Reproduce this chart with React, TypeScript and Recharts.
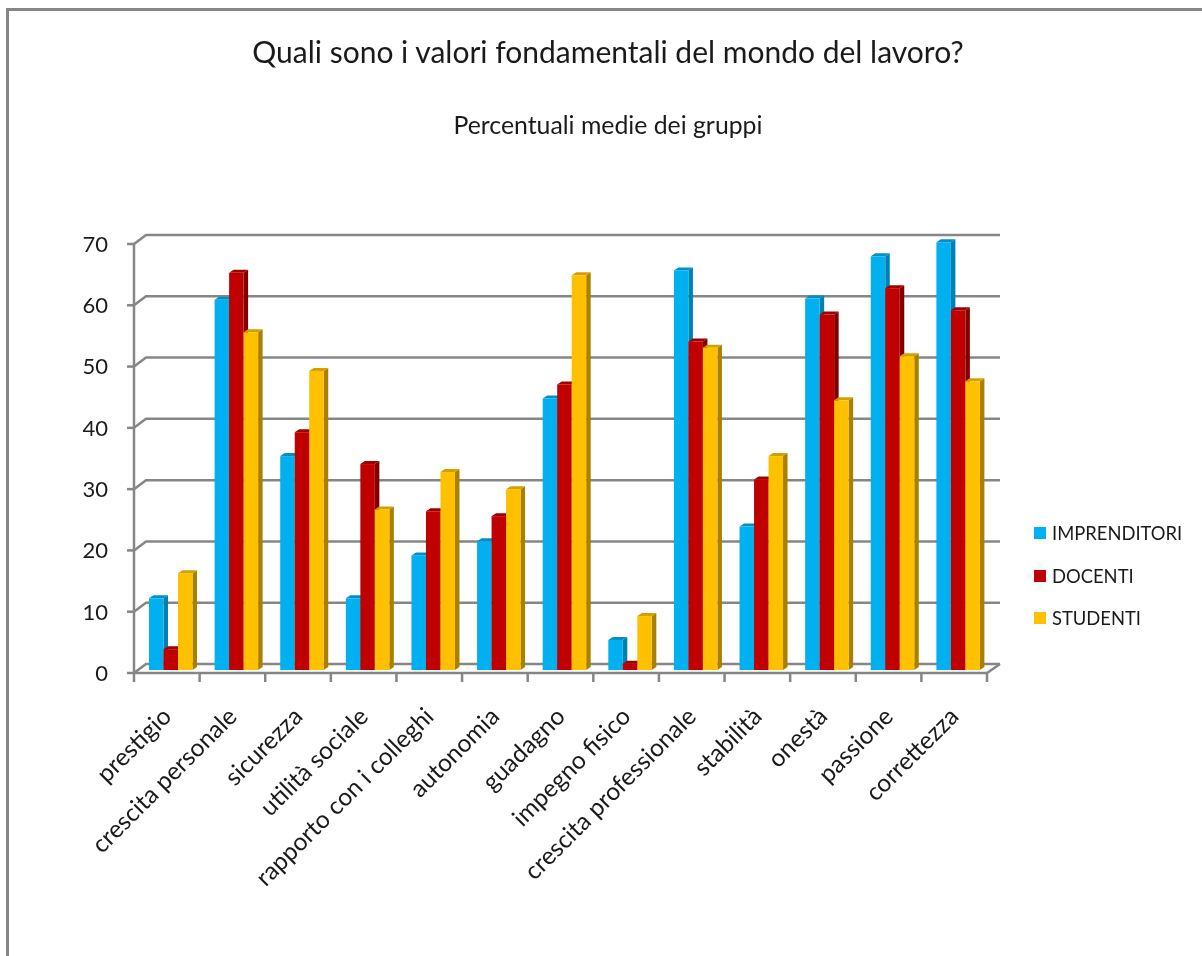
import React from 'react';
import { BarChart, Bar, XAxis, YAxis, CartesianGrid } from 'recharts';

const categories = [
  'prestigio', 'crescita personale', 'sicurezza', 'utilità sociale', 'rapporto con i colleghi',
  'autonomia', 'guadagno', 'impegno fisico', 'crescita professionale', 'stabilità', 'onestà',
  'passione', 'correttezza',
];
const imprenditori = [11.7, 60.4, 34.9, 11.7, 18.7, 21, 44.3, 4.9, 65.2, 23.4, 60.6, 67.5, 69.8];
const docenti = [3.4, 64.8, 38.8, 33.6, 25.9, 25.1, 46.6, 1, 53.6, 31.1, 58, 62.3, 58.7];
const studenti = [15.8, 55.1, 48.8, 26.2, 32.3, 29.5, 64.4, 8.8, 52.6, 34.9, 44, 51.2, 47.1];
const yTicks = [0, 10, 20, 30, 40, 50, 60, 70];

const data = categories.map((name, i) => ({
  name,
  imprenditori: imprenditori[i],
  docenti: docenti[i],
  studenti: studenti[i],
}));

const FONT = 'Lato, sans-serif';
const GRID = '#868686';
const PLOT_W = 853;
const BAND = PLOT_W / categories.length;

// bars stand in the middle of the floor depth, so they are pushed off the axis a little
const Bar3D = ({ x, y, width, height, fill, top, side }: any) => {
  if (!height) return null;
  const bx = x + 4;
  const by = y - 3;
  const dx = 4.5;
  const dy = 3;
  return (
    <g>
      <polygon
        points={`${bx + width},${by} ${bx + width + dx},${by - dy} ${bx + width + dx},${by + height - dy} ${bx + width},${by + height}`}
        fill={side}
      />
      <polygon
        points={`${bx},${by} ${bx + dx},${by - dy} ${bx + width + dx},${by - dy} ${bx + width},${by}`}
        fill={top}
      />
      <rect x={bx} y={by} width={width} height={height} fill={fill} />
    </g>
  );
};

const BackGridLine = ({ x1, x2, y1 }: any) => (
  <g stroke={GRID} strokeWidth={2.5} fill="none">
    <polyline points={`${x1},${y1} ${x1 + 12},${y1 - 9} ${x2 + 13},${y1 - 9}`} />
    {y1 > 650 && <line x1={x2} y1={y1} x2={x2 + 13} y2={y1 - 9} />}
  </g>
);

const CategoryTick = ({ x, y, payload, index }: any) => (
  <g>
    <line x1={x - BAND / 2} y1={y - 8} x2={x - BAND / 2} y2={y + 1} stroke={GRID} strokeWidth={2.5} />
    {index === categories.length - 1 && (
      <line x1={x + BAND / 2} y1={y - 8} x2={x + BAND / 2} y2={y + 1} stroke={GRID} strokeWidth={2.5} />
    )}
    <text
      x={x + 6}
      y={y + 37}
      textAnchor="end"
      transform={`rotate(-45 ${x + 6} ${y + 37})`}
      fontFamily={FONT}
      fontSize={24.5}
      fill="#1a1a1a"
    >
      {payload.value}
    </text>
  </g>
);

const legendItems = [
  { label: 'IMPRENDITORI', color: '#00B0F0' },
  { label: 'DOCENTI', color: '#C00000' },
  { label: 'STUDENTI', color: '#FFC000' },
];

const centered: React.CSSProperties = {
  position: 'absolute',
  left: 8,
  width: 1200,
  textAlign: 'center',
  fontFamily: FONT,
  color: '#1a1a1a',
};

export default function App() {
  return (
    <div style={{ position: 'absolute', left: 0, top: 0, width: 1202, height: 956, background: '#fff', overflow: 'hidden', filter: 'blur(0.45px)' }}>
      <div style={{ position: 'absolute', left: 6, top: 8, width: 1196, height: 3, background: GRID }} />
      <div style={{ position: 'absolute', left: 6, top: 8, width: 3, height: 948, background: GRID }} />
      <div style={{ ...centered, top: 33, fontSize: 30 }}>Quali sono i valori fondamentali del mondo del lavoro?</div>
      <div style={{ ...centered, top: 110, fontSize: 24.8 }}>Percentuali medie dei gruppi</div>
      <div style={{ position: 'absolute', left: 1034, top: 512, fontFamily: FONT, fontSize: 18.4, color: '#1a1a1a' }}>
        {legendItems.map((item) => (
          <div key={item.label} style={{ display: 'flex', alignItems: 'center', height: 42.5 }}>
            <span style={{ width: 12, height: 12, background: item.color, marginRight: 6 }} />
            {item.label}
          </div>
        ))}
      </div>
      <BarChart
        width={1202}
        height={956}
        data={data}
        barSize={14.5}
        barGap={0}
        margin={{ top: 244, right: 215, bottom: 183, left: 74 }}
        style={{ position: 'absolute', left: 0, top: 0 }}
      >
        <CartesianGrid vertical={false} horizontal={(props: any) => <BackGridLine key={props.key} {...props} />} />
        <XAxis
          dataKey="name"
          interval={0}
          height={100}
          tick={<CategoryTick />}
          tickLine={false}
          axisLine={{ stroke: GRID, strokeWidth: 2.5 }}
        />
        <YAxis
          width={60}
          domain={[0, 70]}
          ticks={yTicks}
          tickSize={7}
          tickMargin={19}
          tick={{ fontFamily: FONT, fontSize: 22, fill: '#1a1a1a' }}
          tickLine={{ stroke: GRID, strokeWidth: 2.5 }}
          axisLine={{ stroke: GRID, strokeWidth: 2.5 }}
        />
        <Bar dataKey="imprenditori" isAnimationActive={false} fill="#00B0F0" shape={<Bar3D top="#0090C6" side="#0081B0" />} />
        <Bar dataKey="docenti" isAnimationActive={false} fill="#C00000" shape={<Bar3D top="#A00000" side="#800000" />} />
        <Bar dataKey="studenti" isAnimationActive={false} fill="#FFC000" shape={<Bar3D top="#D4A000" side="#AA8000" />} />
      </BarChart>
    </div>
  );
}
